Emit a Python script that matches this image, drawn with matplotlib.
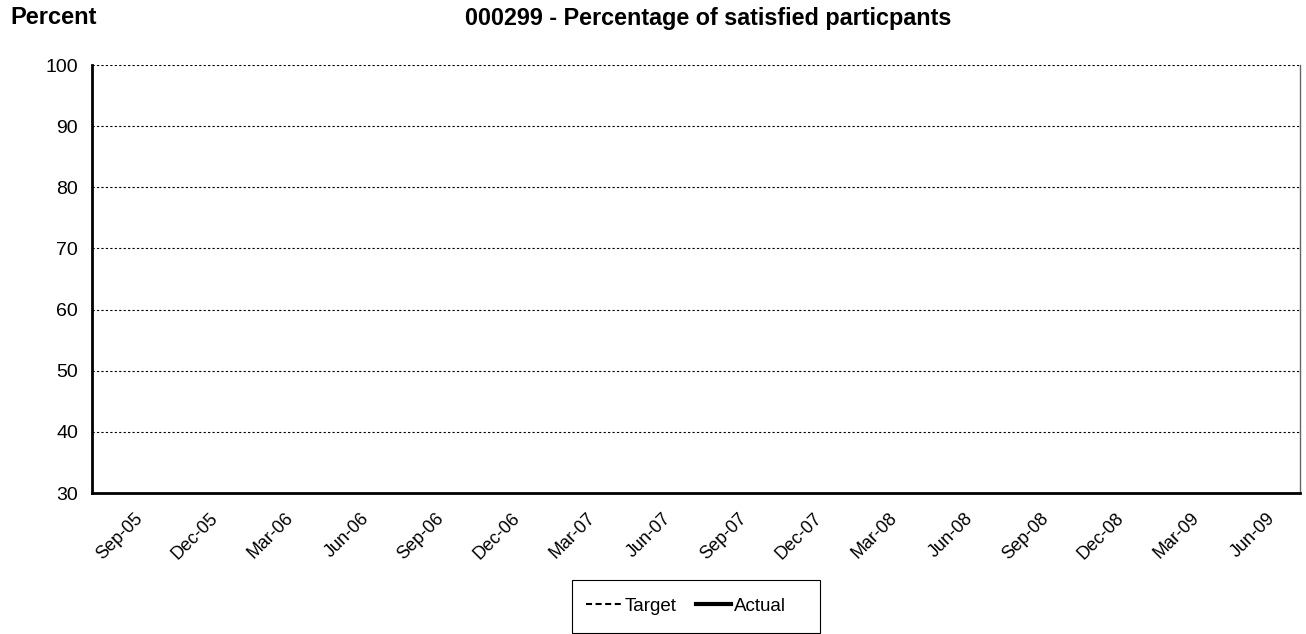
import numpy as np
import matplotlib
matplotlib.use("Agg")
import matplotlib.pyplot as plt
import matplotlib.transforms as mtransforms
from matplotlib.lines import Line2D
from matplotlib.patches import Rectangle

plt.rcParams['font.family'] = ['Liberation Sans', 'DejaVu Sans']

# Quarterly reporting periods
categories = ["Sep-05", "Dec-05", "Mar-06", "Jun-06", "Sep-06", "Dec-06",
              "Mar-07", "Jun-07", "Sep-07", "Dec-07", "Mar-08", "Jun-08",
              "Sep-08", "Dec-08", "Mar-09", "Jun-09"]
# No results reported for either series yet
target = [np.nan] * len(categories)
actual = [np.nan] * len(categories)
y_ticks = [30, 40, 50, 60, 70, 80, 90, 100]

W, H = 1306, 634
fig = plt.figure(figsize=(W / 100, H / 100), dpi=100)
ax = fig.add_axes([92 / W, 1 - 493 / H, (1300 - 92) / W, (493 - 65) / H])

x = np.arange(len(categories))
ax.plot(x, target, color='black', linestyle=(0, (2.9, 1.7)), linewidth=1.5)
ax.plot(x, actual, color='black', linestyle='-', linewidth=3)

ax.set_xlim(-0.5, len(categories) - 0.5)
ax.set_ylim(30, 100)
ax.set_yticks(y_ticks)
ax.set_xticks(x)
ax.set_xticklabels(categories, rotation=45, ha='right', rotation_mode='anchor',
                   fontsize=13)
ax.tick_params(axis='x', length=0, pad=12)
ax.tick_params(axis='y', length=0, pad=10, labelsize=14)

# nudge the slanted category labels slightly to the right
shift = mtransforms.ScaledTranslation(4 / 100, 0, fig.dpi_scale_trans)
for lab in ax.get_xticklabels():
    lab.set_transform(lab.get_transform() + shift)

for yv in y_ticks[1:]:
    ax.axhline(yv, color='black', linestyle=(0, (2, 2)), linewidth=0.8, zorder=1)

ax.spines['top'].set_visible(False)
ax.spines['right'].set_color('#666666')
ax.spines['right'].set_linewidth(1)
ax.spines['left'].set_linewidth(2)
ax.spines['bottom'].set_linewidth(2)

fig.text(10 / W, 1 - 18 / H, "Percent", fontsize=17, fontweight='bold',
         va='center', ha='left')
fig.text(708 / W, 1 - 18 / H, "000299 - Percentage of satisfied particpants",
         fontsize=16.8, fontweight='bold', va='center', ha='center')

# legend box
fig.patches.append(Rectangle((572 / W, 1 - 633 / H), (820 - 572) / W, (633 - 580) / H,
                             transform=fig.transFigure, fill=False,
                             edgecolor='black', linewidth=0.8))

handles = [Line2D([], [], color='black', linestyle=(0, (2.9, 1.7)), linewidth=1.5),
           Line2D([], [], color='black', linestyle='-', linewidth=3)]
leg = fig.legend(handles, ["Target", "Actual"], loc='center',
                 bbox_to_anchor=(686 / W, 1 - 606 / H), ncol=2, fontsize=13.5,
                 frameon=False, handlelength=1.9, handletextpad=0.15,
                 columnspacing=1.05, borderpad=0, borderaxespad=0)

fig.savefig("out.png", dpi=100)
